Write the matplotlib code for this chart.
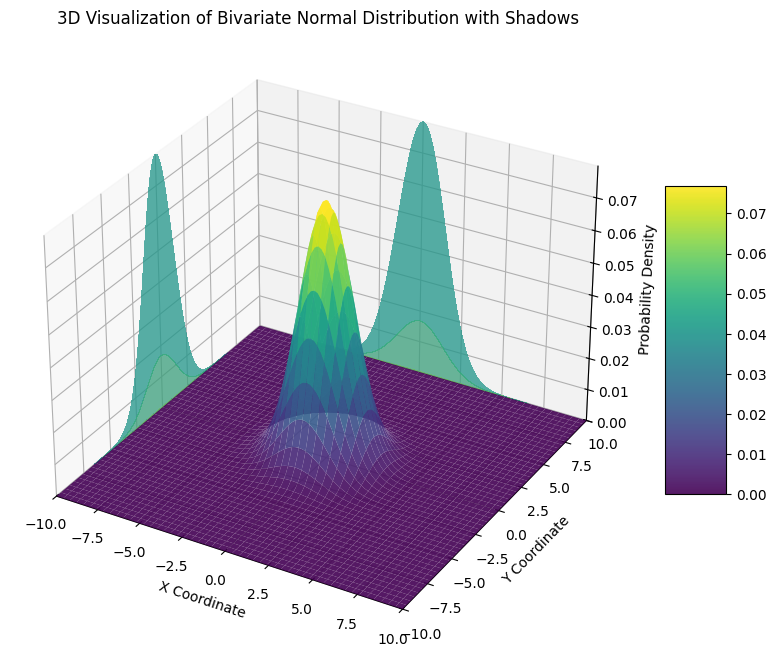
import numpy as np
import matplotlib
matplotlib.use('Agg')
import matplotlib.pyplot as plt

# density profile through the peak, read every 0.2 from 0 to 10 (symmetric about 0)
half_coords = [0.0, 0.2, 0.4, 0.6, 0.8, 1.0, 1.2, 1.4, 1.6, 1.8, 2.0, 2.2, 2.4, 2.6, 2.8, 3.0, 3.2,
               3.4, 3.6, 3.8, 4.0, 4.2, 4.4, 4.6, 4.8, 5.0, 5.2, 5.4, 5.6, 5.8, 6.0, 6.2, 6.4,
               6.6, 6.8, 7.0, 7.2, 7.4, 7.6, 7.8, 8.0, 8.2, 8.4, 8.6, 8.8, 9.0, 9.2, 9.4, 9.6, 9.8, 10.0]
half_profile = [0.2821, 0.2793, 0.2710, 0.2578, 0.2404, 0.2197, 0.1968, 0.1728, 0.1488, 0.1255,
                0.1038, 0.0841, 0.0668, 0.0520, 0.0397, 0.0297, 0.0218, 0.0157, 0.0111, 0.00764,
                0.0052, 0.00343, 0.00223, 0.00142, 0.00089, 0.00054, 0.00033, 0.00019, 0.00011,
                0.00006, 0.000035, 0.00002, 0.00001, 0.0, 0.0, 0.0, 0.0, 0.0, 0.0, 0.0,
                0.0, 0.0, 0.0, 0.0, 0.0, 0.0, 0.0, 0.0, 0.0, 0.0, 0.0]

coords = np.array([-c for c in half_coords[:0:-1]] + half_coords)
profile = np.array(half_profile[:0:-1] + half_profile)

X, Y = np.meshgrid(coords, coords)
Z = np.outer(profile, profile)

fig = plt.figure(figsize=(10, 8))
ax = fig.add_subplot(111, projection='3d')

surf = ax.plot_surface(X, Y, Z, cmap='viridis', alpha=0.9, rstride=2, cstride=2)

# Shadows on the two back walls
ax.contourf(X, Y, Z, zdir='x', offset=-10, cmap='viridis', alpha=0.5)
ax.contourf(X, Y, Z, zdir='y', offset=10, cmap='viridis', alpha=0.5)

ax.set_xlim(-10, 10)
ax.set_ylim(-10, 10)
ax.set_zlim(0, Z.max())
ax.set_xlabel('X Coordinate')
ax.set_ylabel('Y Coordinate')
ax.set_zlabel('Probability Density')
ax.set_title('3D Visualization of Bivariate Normal Distribution with Shadows')
fig.colorbar(surf, ax=ax, shrink=0.5, aspect=5)

plt.savefig('out.png', bbox_inches='tight', dpi=100)
